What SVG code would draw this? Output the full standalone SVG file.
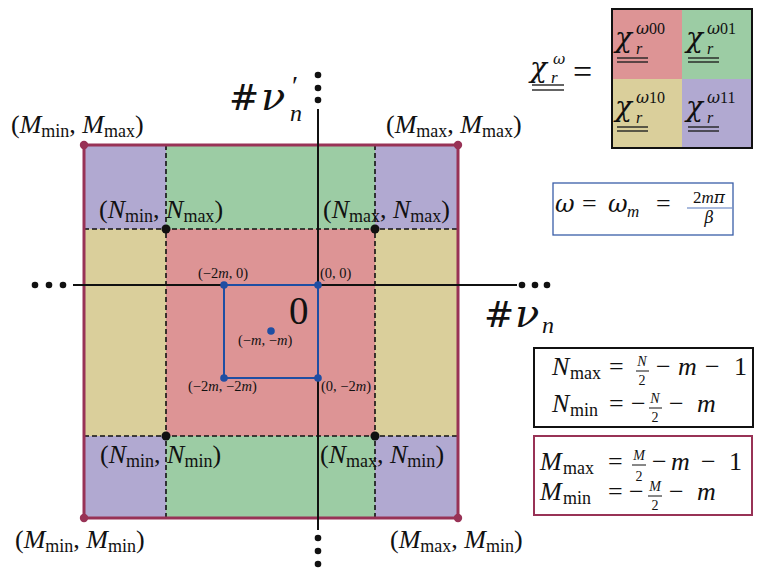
<svg xmlns="http://www.w3.org/2000/svg" width="767" height="577" viewBox="0 0 767 577">
<style>
.t{font-family:"Liberation Serif","Times New Roman",serif;fill:#111}
.i{font-style:italic}
.g{font-family:"DejaVu Serif",serif;font-style:italic}
.hash{font-family:"DejaVu Serif",serif;font-style:normal}
.red{fill:#dd9495}.grn{fill:#9ccca4}.yel{fill:#dacf9b}.pur{fill:#b1a9d1}
.dash{stroke:#111;stroke-width:1.6;stroke-dasharray:5 3;fill:none}
.axis{stroke:#111;stroke-width:2;fill:none}
.kdot{fill:#111}
.mdot{fill:#983256}
.bdot{fill:#1f4ea3}
.ul{stroke:#222;stroke-width:1.4}
.lab{font-size:26px}
.sub{font-size:18px}
.sm{font-size:14.5px}
.fr{font-size:14px}
</style>
<g id="grid">
  <rect class="pur" x="84" y="145" width="82" height="84"/>
  <rect class="grn" x="166" y="145" width="209" height="84"/>
  <rect class="pur" x="375" y="145" width="83" height="84"/>
  <rect class="yel" x="84" y="229" width="82" height="207"/>
  <rect class="red" x="166" y="229" width="209" height="207"/>
  <rect class="yel" x="375" y="229" width="83" height="207"/>
  <rect class="pur" x="84" y="436" width="82" height="82"/>
  <rect class="grn" x="166" y="436" width="209" height="82"/>
  <rect class="pur" x="375" y="436" width="83" height="82"/>
  <line class="dash" x1="166" y1="145" x2="166" y2="518"/>
  <line class="dash" x1="375" y1="145" x2="375" y2="518"/>
  <line class="dash" x1="84" y1="229" x2="458" y2="229"/>
  <line class="dash" x1="84" y1="436" x2="458" y2="436"/>
  <rect x="84" y="145" width="374" height="373" fill="none" stroke="#983256" stroke-width="3"/>
</g>
<g id="axes">
  <line class="axis" x1="73" y1="285" x2="517" y2="285"/>
  <line class="axis" x1="318" y1="109" x2="318" y2="530"/>
  <circle class="kdot" cx="35" cy="285" r="3.3"/><circle class="kdot" cx="49" cy="285" r="3.3"/><circle class="kdot" cx="63" cy="285" r="3.3"/>
  <circle class="kdot" cx="522" cy="285" r="3.3"/><circle class="kdot" cx="535" cy="285" r="3.3"/><circle class="kdot" cx="547" cy="285" r="3.3"/>
  <circle class="kdot" cx="318" cy="75" r="3.3"/><circle class="kdot" cx="318" cy="88" r="3.3"/><circle class="kdot" cx="318" cy="100" r="3.3"/>
  <circle class="kdot" cx="318" cy="538" r="3.3"/><circle class="kdot" cx="318" cy="551" r="3.3"/><circle class="kdot" cx="318" cy="564" r="3.3"/>
</g>
<g id="points">
  <circle class="kdot" cx="166" cy="229" r="4.5"/>
  <circle class="kdot" cx="375" cy="229" r="4.5"/>
  <circle class="kdot" cx="166" cy="436" r="4.5"/>
  <circle class="kdot" cx="375" cy="436" r="4.5"/>
  <circle class="mdot" cx="84" cy="145" r="4.2"/>
  <circle class="mdot" cx="458" cy="145" r="4.2"/>
  <circle class="mdot" cx="84" cy="518" r="4.2"/>
  <circle class="mdot" cx="458" cy="518" r="4.2"/>
</g>
<g id="block0">
  <rect x="224" y="285" width="94" height="93" fill="none" stroke="#1f4ea3" stroke-width="2"/>
  <circle class="bdot" cx="224" cy="285" r="3.8"/>
  <circle class="bdot" cx="318" cy="285" r="3.8"/>
  <circle class="bdot" cx="224" cy="378" r="3.8"/>
  <circle class="bdot" cx="318" cy="378" r="3.8"/>
  <circle class="bdot" cx="271" cy="331" r="3.8"/>
  <text class="t" x="289" y="324" font-size="39">0</text>
  <text class="t sm" x="198" y="278">(−2<tspan class="i">m</tspan>, 0)</text>
  <text class="t sm" x="320" y="278">(0, 0)</text>
  <text class="t sm" x="238" y="345">(−<tspan class="i">m</tspan>, −<tspan class="i">m</tspan>)</text>
  <text class="t sm" x="188" y="391">(−2<tspan class="i">m</tspan>, −2<tspan class="i">m</tspan>)</text>
  <text class="t sm" x="321" y="391">(0, −2<tspan class="i">m</tspan>)</text>
</g>
<g id="corner-labels">
  <text class="t lab" x="11" y="133">(<tspan class="i">M</tspan><tspan class="sub" dy="4">min</tspan><tspan dy="-4">, </tspan><tspan class="i">M</tspan><tspan class="sub" dy="4">max</tspan><tspan dy="-4">)</tspan></text>
  <text class="t lab" x="386" y="133">(<tspan class="i">M</tspan><tspan class="sub" dy="4">max</tspan><tspan dy="-4">, </tspan><tspan class="i">M</tspan><tspan class="sub" dy="4">max</tspan><tspan dy="-4">)</tspan></text>
  <text class="t lab" x="99" y="218">(<tspan class="i">N</tspan><tspan class="sub" dy="4">min</tspan><tspan dy="-4">, </tspan><tspan class="i">N</tspan><tspan class="sub" dy="4">max</tspan><tspan dy="-4">)</tspan></text>
  <text class="t lab" x="323" y="218">(<tspan class="i">N</tspan><tspan class="sub" dy="4">max</tspan><tspan dy="-4">, </tspan><tspan class="i">N</tspan><tspan class="sub" dy="4">max</tspan><tspan dy="-4">)</tspan></text>
  <text class="t lab" x="100" y="463">(<tspan class="i">N</tspan><tspan class="sub" dy="4">min</tspan><tspan dy="-4">, </tspan><tspan class="i">N</tspan><tspan class="sub" dy="4">min</tspan><tspan dy="-4">)</tspan></text>
  <text class="t lab" x="320" y="463">(<tspan class="i">N</tspan><tspan class="sub" dy="4">max</tspan><tspan dy="-4">, </tspan><tspan class="i">N</tspan><tspan class="sub" dy="4">min</tspan><tspan dy="-4">)</tspan></text>
  <text class="t lab" x="15" y="548">(<tspan class="i">M</tspan><tspan class="sub" dy="4">min</tspan><tspan dy="-4">, </tspan><tspan class="i">M</tspan><tspan class="sub" dy="4">min</tspan><tspan dy="-4">)</tspan></text>
  <text class="t lab" x="390" y="548">(<tspan class="i">M</tspan><tspan class="sub" dy="4">max</tspan><tspan dy="-4">, </tspan><tspan class="i">M</tspan><tspan class="sub" dy="4">min</tspan><tspan dy="-4">)</tspan></text>
</g>
<g id="axis-labels">
  <text class="t hash" x="229" y="110" font-size="36">#</text>
  <text class="t g" x="261" y="110" font-size="40">ν</text>
  <text class="t" x="292" y="95" font-size="28">′</text>
  <text class="t i" x="290" y="121" font-size="24">n</text>
  <text class="t hash" x="484" y="327" font-size="36">#</text>
  <text class="t g" x="515" y="327" font-size="40">ν</text>
  <text class="t i" x="542" y="333" font-size="24">n</text>
</g>
<g id="legend">
  <text class="t g" x="530" y="77" font-size="28">χ</text>
  <text class="t g" x="553" y="64" font-size="15">ω</text>
  <text class="t i" x="551" y="83" font-size="17">r</text>
  <line class="ul" x1="532" y1="85" x2="564" y2="85"/>
  <line class="ul" x1="532" y1="90" x2="564" y2="90"/>
  <text class="t" x="573" y="83" font-size="34">=</text>
  <rect class="red" x="612" y="9" width="70" height="70"/>
  <rect class="grn" x="682" y="9" width="70" height="70"/>
  <rect class="yel" x="612" y="79" width="70" height="69"/>
  <rect class="pur" x="682" y="79" width="70" height="69"/>
  <rect x="612" y="9" width="140" height="139" fill="none" stroke="#111" stroke-width="2"/>
  <g id="cell00">
    <text class="t g" x="615" y="47" font-size="28">χ</text>
    <text class="t i" x="636" y="54" font-size="16">r</text>
    <text class="t" x="636" y="34" font-size="16"><tspan class="g">ω</tspan>00</text>
    <line class="ul" x1="617" y1="58" x2="648" y2="58"/>
    <line class="ul" x1="617" y1="62" x2="648" y2="62"/>
  </g>
  <g id="cell01">
    <text class="t g" x="686" y="47" font-size="28">χ</text>
    <text class="t i" x="707" y="54" font-size="16">r</text>
    <text class="t" x="707" y="34" font-size="16"><tspan class="g">ω</tspan>01</text>
    <line class="ul" x1="688" y1="58" x2="719" y2="58"/>
    <line class="ul" x1="688" y1="62" x2="719" y2="62"/>
  </g>
  <g id="cell10">
    <text class="t g" x="615" y="116" font-size="28">χ</text>
    <text class="t i" x="636" y="123" font-size="16">r</text>
    <text class="t" x="636" y="103" font-size="16"><tspan class="g">ω</tspan>10</text>
    <line class="ul" x1="617" y1="127" x2="648" y2="127"/>
    <line class="ul" x1="617" y1="131" x2="648" y2="131"/>
  </g>
  <g id="cell11">
    <text class="t g" x="686" y="116" font-size="28">χ</text>
    <text class="t i" x="707" y="123" font-size="16">r</text>
    <text class="t" x="707" y="103" font-size="16"><tspan class="g">ω</tspan>11</text>
    <line class="ul" x1="688" y1="127" x2="719" y2="127"/>
    <line class="ul" x1="688" y1="131" x2="719" y2="131"/>
  </g>
</g>
<g id="omega-box">
  <rect x="553" y="183" width="180" height="52" fill="#fff" stroke="#3a5ea8" stroke-width="1.3"/>
  <text class="t g" x="555" y="212" font-size="24">ω</text>
  <text class="t" x="582" y="212" font-size="26">=</text>
  <text class="t g" x="608" y="212" font-size="24">ω</text>
  <text class="t i" x="627" y="217" font-size="17">m</text>
  <text class="t" x="656" y="212" font-size="26">=</text>
  <text class="t" x="709" y="203" font-size="17" text-anchor="middle">2<tspan class="i">m</tspan><tspan class="g">π</tspan></text>
  <line x1="687" y1="208" x2="732" y2="208" stroke="#5577bb" stroke-width="1.2"/>
  <text class="t g" x="709" y="223" font-size="16" text-anchor="middle">β</text>
</g>
<g id="n-box">
  <rect x="534" y="348" width="219" height="79" fill="#fff" stroke="#111" stroke-width="2"/>
  <text class="t i" x="552" y="375" font-size="26">N</text>
  <text class="t sub" x="570" y="379">max</text>
  <text class="t" x="609" y="375" font-size="26">=</text>
  <text class="t i fr" x="642" y="366" text-anchor="middle">N</text>
  <line x1="636" y1="371" x2="649" y2="371" stroke="#111" stroke-width="1"/>
  <text class="t fr" x="642" y="385" text-anchor="middle">2</text>
  <text class="t" x="656" y="375" font-size="26">−</text>
  <text class="t i" x="678" y="375" font-size="26">m</text>
  <text class="t" x="705" y="375" font-size="26">−</text>
  <text class="t" x="734" y="375" font-size="26">1</text>
  <text class="t i" x="552" y="412" font-size="26">N</text>
  <text class="t sub" x="570" y="416">min</text>
  <text class="t" x="609" y="412" font-size="26">=</text>
  <text class="t" x="631" y="412" font-size="26">−</text>
  <text class="t i fr" x="655" y="403" text-anchor="middle">N</text>
  <line x1="649" y1="408" x2="662" y2="408" stroke="#111" stroke-width="1"/>
  <text class="t fr" x="655" y="422" text-anchor="middle">2</text>
  <text class="t" x="669" y="412" font-size="26">−</text>
  <text class="t i" x="697" y="412" font-size="26">m</text>
</g>
<g id="m-box">
  <rect x="534" y="436" width="218" height="79" fill="#fff" stroke="#983256" stroke-width="2"/>
  <text class="t i" x="540" y="470" font-size="26">M</text>
  <text class="t sub" x="563" y="474">max</text>
  <text class="t" x="608" y="470" font-size="26">=</text>
  <text class="t i fr" x="639" y="460" text-anchor="middle">M</text>
  <line x1="632" y1="465" x2="646" y2="465" stroke="#111" stroke-width="1"/>
  <text class="t fr" x="639" y="481" text-anchor="middle">2</text>
  <text class="t" x="652" y="470" font-size="26">−</text>
  <text class="t i" x="671" y="470" font-size="26">m</text>
  <text class="t" x="701" y="470" font-size="26">−</text>
  <text class="t" x="729" y="470" font-size="26">1</text>
  <text class="t i" x="540" y="500" font-size="26">M</text>
  <text class="t sub" x="563" y="504">min</text>
  <text class="t" x="608" y="500" font-size="26">=</text>
  <text class="t" x="629" y="500" font-size="26">−</text>
  <text class="t i fr" x="655" y="491" text-anchor="middle">M</text>
  <line x1="648" y1="496" x2="662" y2="496" stroke="#111" stroke-width="1"/>
  <text class="t fr" x="655" y="510" text-anchor="middle">2</text>
  <text class="t" x="669" y="500" font-size="26">−</text>
  <text class="t i" x="697" y="500" font-size="26">m</text>
</g>
</svg>
